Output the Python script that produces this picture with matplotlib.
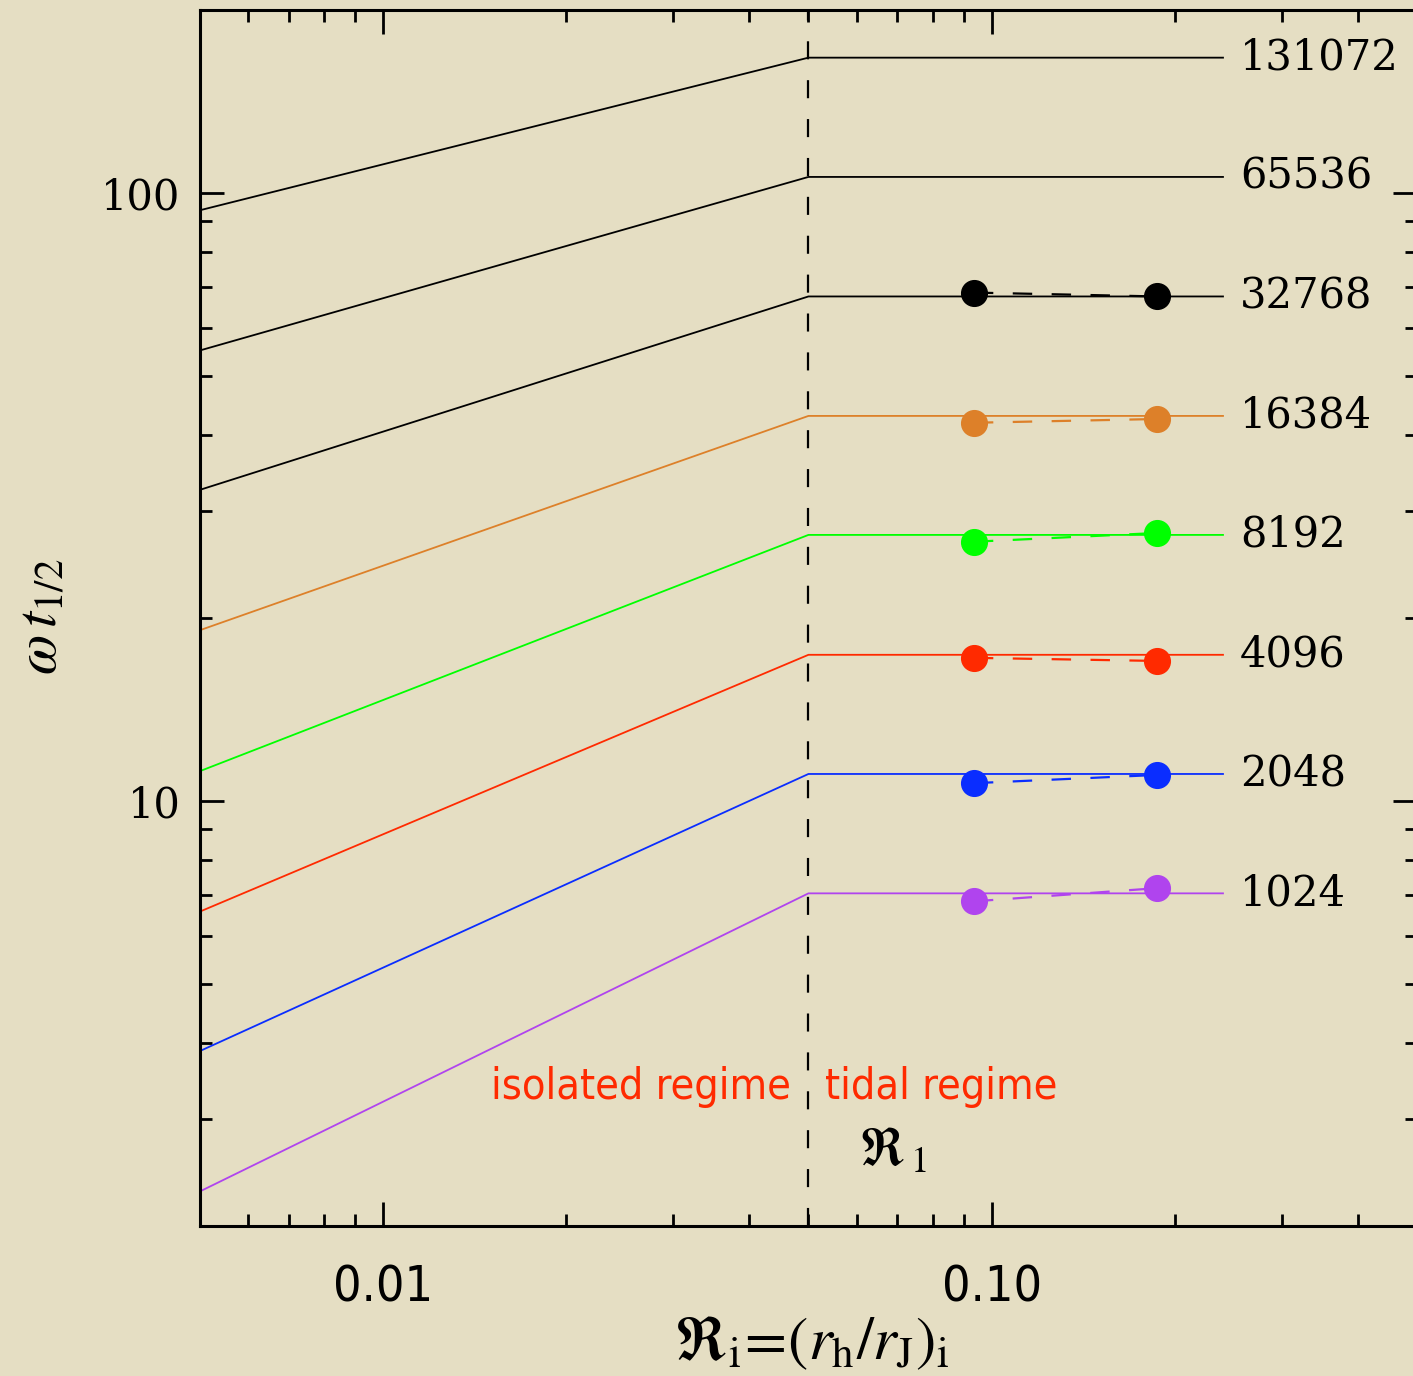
import numpy as np
import matplotlib
matplotlib.use("Agg")
import matplotlib.pyplot as plt
from matplotlib import font_manager
from matplotlib.ticker import LogLocator, FixedLocator, NullFormatter, FixedFormatter

# data
n_stars = ["131072", "65536", "32768", "16384", "8192", "4096", "2048", "1024"]
colors = ["black", "black", "black", "#dd8029", "#00ff00", "#ff2a00", "#0a2dff", "#b044ee"]
x_model = [0.005, 0.05, 0.24]
y_left = [93.7, 55.1, 32.5, 19.1, 11.2, 6.58, 3.88, 2.28]
y_plateau = [167.0, 106.3, 67.6, 43.0, 27.4, 17.4, 11.08, 7.05]

x_sim = [0.0935, 0.187]
sim_n = ["32768", "16384", "8192", "4096", "2048", "1024"]
sim_y1 = [68.6, 41.9, 26.7, 17.2, 10.7, 6.84]
sim_y2 = [67.6, 42.5, 27.6, 17.0, 11.04, 7.19]

r1 = 0.05
bg = "#e5dec3"

# look for an upright narrow sans font, else fall back
narrow = None
for f in font_manager.fontManager.ttflist:
    nm = f.name + " " + str(f.stretch) + " " + f.fname
    if ("Narrow" in nm or "ondensed" in nm) and f.style == "normal" \
            and f.weight in (400, "normal", "regular") and "Bold" not in f.fname \
            and "Oblique" not in f.fname and "Italic" not in f.fname and "Serif" not in f.fname:
        narrow = f
        break


def narrow_font(size):
    if narrow is not None:
        return font_manager.FontProperties(fname=narrow.fname, size=size)
    return font_manager.FontProperties(family="Liberation Sans", size=size * 0.9)


plt.rcParams["mathtext.fontset"] = "stix"
plt.rcParams["lines.scale_dashes"] = False

fig = plt.figure(figsize=(14.13, 13.76), dpi=100, facecolor=bg)
ax = fig.add_axes([0.1415, 0.1090, 0.8613, 0.8837])
ax.set_facecolor(bg)
ax.set_xscale("log")
ax.set_yscale("log")
ax.set_xlim(0.005, 0.5)
ax.set_ylim(2, 200)

# model lines
for i in range(len(n_stars)):
    ax.plot(x_model, [y_left[i], y_plateau[i], y_plateau[i]], color=colors[i], lw=1.3)
    ax.text(0.256, y_plateau[i], n_stars[i], fontsize=30, family="DejaVu Serif",
            ha="left", va="center")

# simulation points
for i in range(len(sim_n)):
    c = colors[n_stars.index(sim_n[i])]
    ax.plot(x_sim, [sim_y1[i], sim_y2[i]], color=c, lw=1.6, ls=(0, (14, 14)))
    ax.plot(x_sim, [sim_y1[i], sim_y2[i]], "o", color=c, ms=18.5, ls="none")

ax.axvline(r1, color="black", lw=1.6, ls=(0, (13, 15)))

ax.text(0.0467, 3.24, "isolated regime", color="#ff2a00", ha="right", va="baseline",
        fontproperties=narrow_font(31))
ax.text(0.0532, 3.24, "tidal regime", color="#ff2a00", ha="left", va="baseline",
        fontproperties=narrow_font(31))
ax.text(0.0605, 2.51, r"$\Re_{\,1}$", fontsize=38, ha="left", va="baseline")

# axes styling
for s in ax.spines.values():
    s.set_linewidth(2.2)
ax.tick_params(which="both", direction="in", top=True, right=True, width=2.0)
ax.tick_params(which="major", length=17)
ax.tick_params(which="minor", length=8.5)
ax.xaxis.set_major_locator(FixedLocator([0.01, 0.1]))
ax.xaxis.set_major_formatter(FixedFormatter(["0.01", "0.10"]))
ax.xaxis.set_minor_locator(LogLocator(base=10, subs=np.arange(2, 10)))
ax.xaxis.set_minor_formatter(NullFormatter())
ax.yaxis.set_major_locator(FixedLocator([10, 100]))
ax.yaxis.set_major_formatter(FixedFormatter(["10", "100"]))
ax.yaxis.set_minor_locator(LogLocator(base=10, subs=np.arange(2, 10)))
ax.yaxis.set_minor_formatter(NullFormatter())
ax.tick_params(axis="x", which="major", pad=27)
ax.tick_params(axis="y", which="major", pad=14)
for lab in ax.get_xticklabels():
    lab.set_fontproperties(narrow_font(36))
for lab in ax.get_yticklabels():
    lab.set_fontsize(30)
    lab.set_family("DejaVu Serif")

ax.set_xlabel(r"$\Re_{\rm i}\!=\!(r_{\rm h}/r_{\rm J})_{\rm i}$", fontsize=44)
ax.xaxis.set_label_coords(0.503, -0.072)
ax.set_ylabel(r"$\omega\, t_{1/2}$", fontsize=42)
ax.yaxis.set_label_coords(-0.108, 0.501)

fig.savefig("out.png", dpi=100, facecolor=bg)
